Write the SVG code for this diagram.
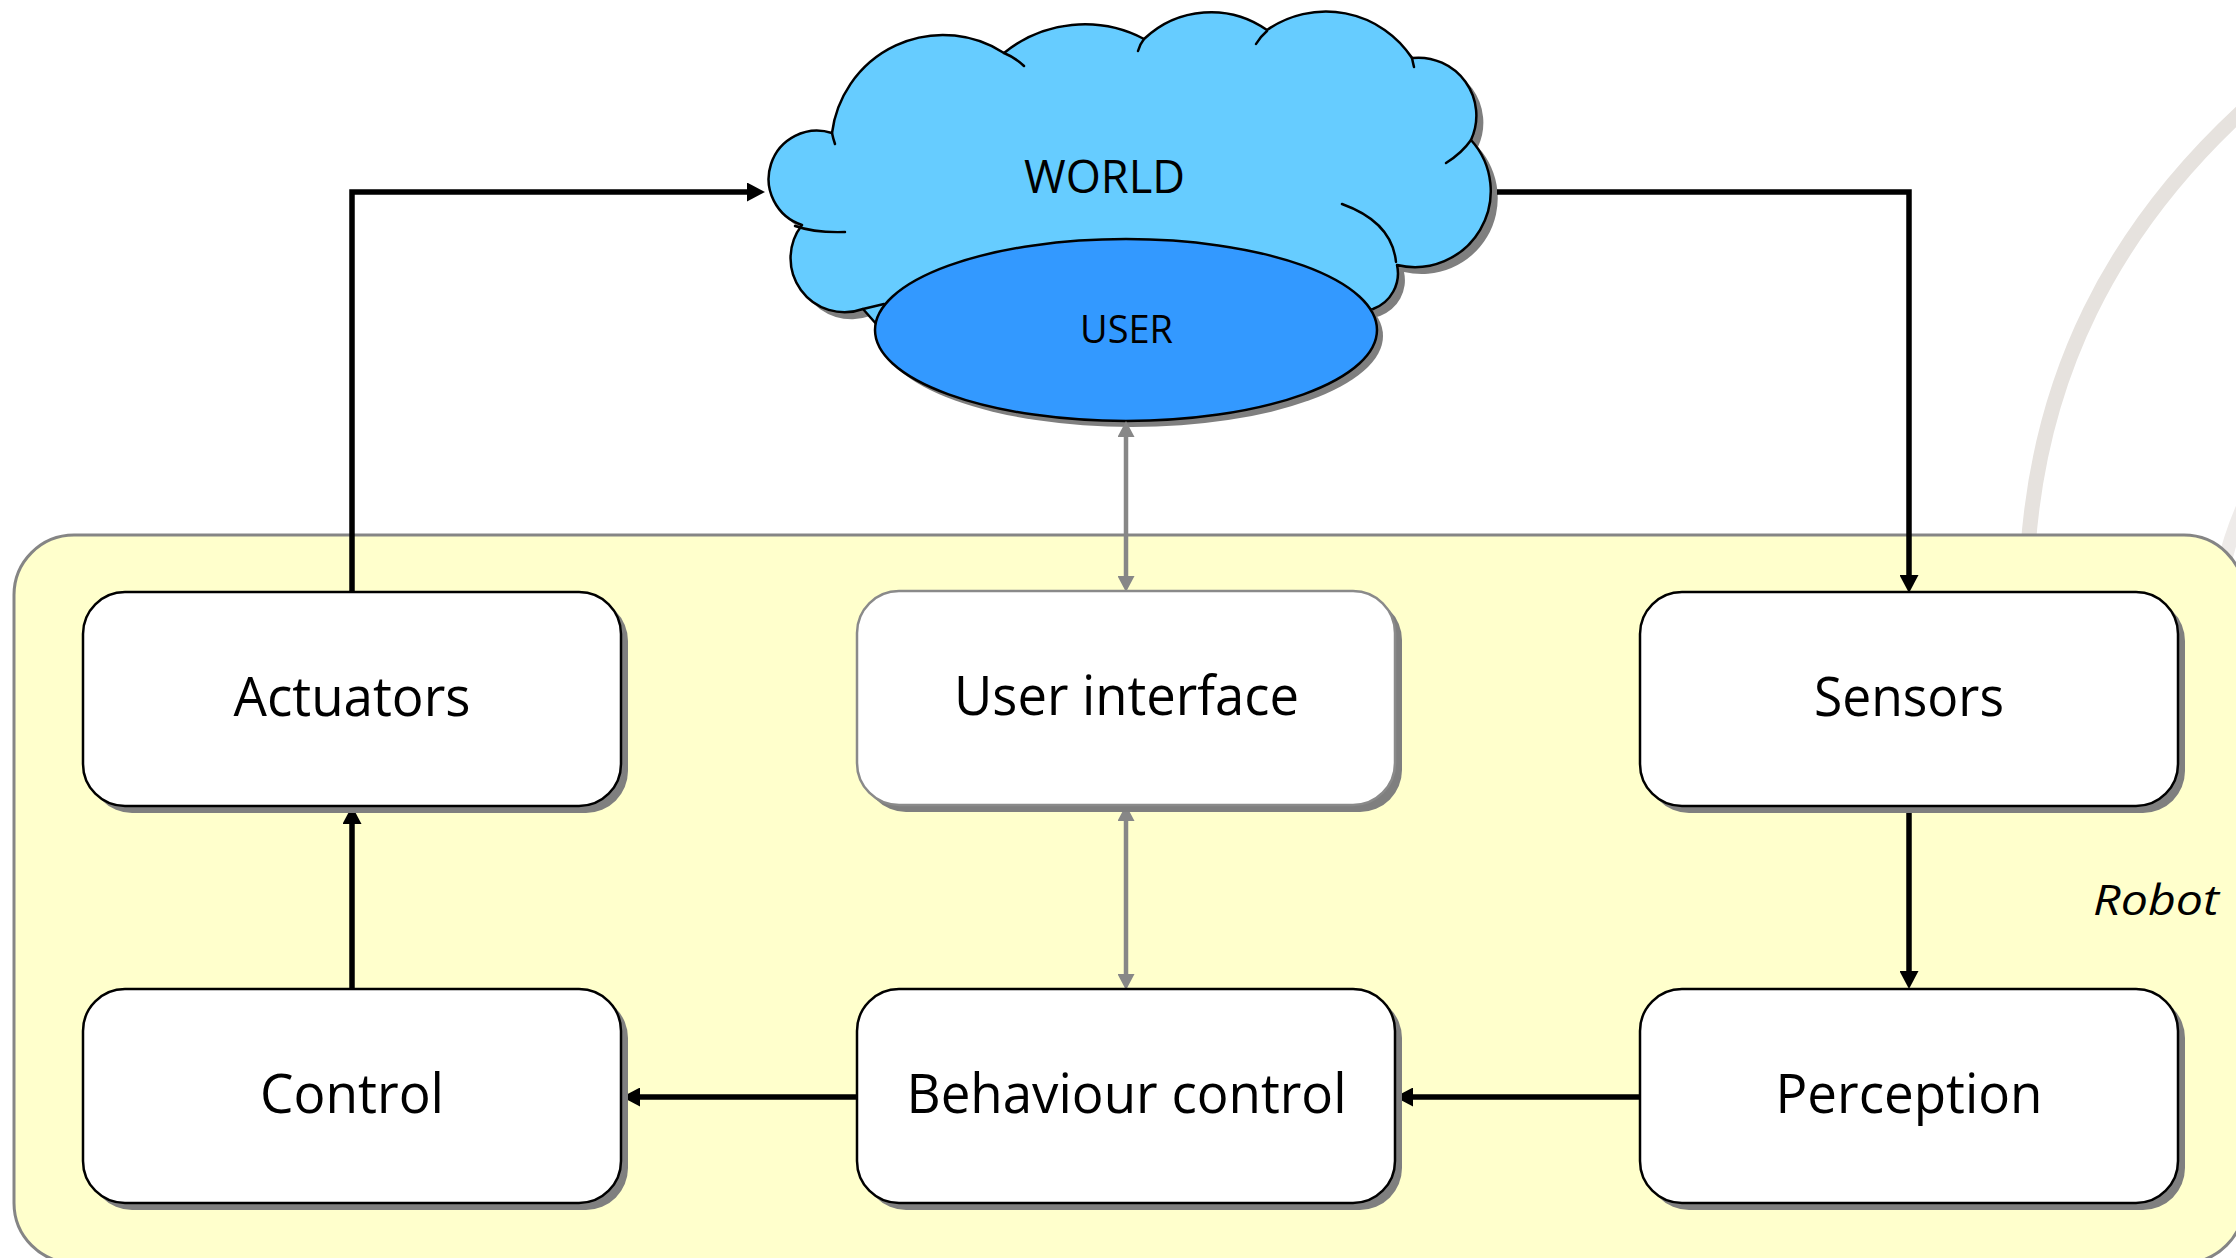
<svg xmlns="http://www.w3.org/2000/svg" xmlns:xlink="http://www.w3.org/1999/xlink" width="2236" height="1258" viewBox="0 0 2236 1258">
  <style>
    .box { fill: #ffffff; stroke: #000000; stroke-width: 2.5; }
    .box-soft { fill: #ffffff; stroke: #8a8a8a; stroke-width: 2.5; }
    .shadow { fill: #7f7f7f; stroke: none; }
    .label { font-family: "Open Sans", "Noto Sans", "Liberation Sans", sans-serif; fill: #000000; text-anchor: middle; }
    .big { font-size: 55px; }
    .link { fill: none; stroke: #000000; stroke-width: 5.5; }
    .link-ui { fill: none; stroke: #878787; stroke-width: 4.5; }
    .cloud-line { fill: none; stroke: #000000; stroke-width: 2.5; stroke-linecap: round; }
  </style>
  <defs>
    <marker id="head" markerUnits="userSpaceOnUse" viewBox="0 0 18 19" refX="8" refY="9.5" markerWidth="18" markerHeight="19" orient="auto-start-reverse">
      <path d="M0,0 L18,9.5 L0,19 Z" fill="#000000"/>
    </marker>
    <marker id="head-ui" markerUnits="userSpaceOnUse" viewBox="0 0 16 17" refX="6" refY="8.5" markerWidth="16" markerHeight="17" orient="auto-start-reverse">
      <path d="M0,0 L16,8.5 L0,17 Z" fill="#878787"/>
    </marker>
    <path id="cloud-shape" d="M 878 326 L 863 309
      A 54 54 0 0 1 802 225
      A 48 48 0 0 1 832 133
      A 112 112 0 0 1 1004 53
      A 128 128 0 0 1 1144 39
      A 97 97 0 0 1 1267 30
      A 103 103 0 0 1 1412 58
      A 58 58 0 0 1 1471 140
      A 76 76 0 0 1 1397 265
      A 38 38 0 0 1 1373 309
      L 1300 330 Z"/>
    <rect id="node-shape" x="0" y="0" width="538" height="214" rx="42" ry="42"/>
  </defs>

  <rect x="0" y="0" width="2236" height="1258" fill="#ffffff"/>

  <!-- faint decorative arcs in the upper right corner -->
  <g id="backdrop" fill="none" stroke-linecap="butt">
    <path d="M 2028 548 C 2040 380, 2108 232, 2250 104" stroke="#e6e2de" stroke-width="15"/>
    <path d="M 2212 640 C 2216 590, 2226 545, 2244 505" stroke="#eeebe9" stroke-width="14"/>
  </g>

  <!-- robot boundary -->
  <g id="robot">
    <rect x="14" y="535" width="2230" height="728" rx="60" ry="60" fill="#ffffcc" stroke="#858585" stroke-width="3"/>
    <text class="label" x="2156" y="915" font-size="42" font-style="italic" textLength="126" lengthAdjust="spacingAndGlyphs">Robot</text>
  </g>

  <!-- world cloud with the user -->
  <g id="world">
    <use xlink:href="#cloud-shape" class="shadow" transform="translate(7,7)"/>
    <use xlink:href="#cloud-shape" fill="#66ccff" stroke="#000000" stroke-width="2.5" stroke-linejoin="round"/>
    <path class="cloud-line" d="M 795 226 Q 815 233 845 232"/>
    <path class="cloud-line" d="M 832 133 Q 833 138 835 144"/>
    <path class="cloud-line" d="M 1004 53 Q 1016 58 1024 66"/>
    <path class="cloud-line" d="M 1144 39 Q 1140 44 1138 51"/>
    <path class="cloud-line" d="M 1267 31 Q 1260 37 1256 44"/>
    <path class="cloud-line" d="M 1412 58 Q 1413 63 1414 67"/>
    <path class="cloud-line" d="M 1471 140 Q 1462 153 1446 163"/>
    <path class="cloud-line" d="M 1342 204 Q 1392 222 1396 262"/>
    <path class="cloud-line" d="M 863 309 L 884 304"/>
    <text class="label" x="1104.5" y="193" font-size="46" textLength="161" lengthAdjust="spacingAndGlyphs">WORLD</text>
  </g>
  <g id="user">
    <ellipse cx="1132" cy="336" rx="251" ry="91" class="shadow"/>
    <ellipse cx="1126" cy="330" rx="251" ry="91" fill="#3399ff" stroke="#000000" stroke-width="2.5"/>
    <text class="label" x="1126.5" y="343" font-size="39" textLength="93" lengthAdjust="spacingAndGlyphs">USER</text>
  </g>

  <!-- connectors -->
  <g id="connectors">
    <path class="link" d="M 352 592 V 192 H 755" marker-end="url(#head)"/>
    <path class="link" d="M 1497 192 H 1909 V 583" marker-end="url(#head)"/>
    <path class="link" d="M 1909 806 V 979" marker-end="url(#head)"/>
    <path class="link" d="M 1640 1097 H 1405" marker-end="url(#head)"/>
    <path class="link" d="M 857 1097 H 632" marker-end="url(#head)"/>
    <path class="link" d="M 352 989 V 816" marker-end="url(#head)"/>
    <path class="link-ui" d="M 1126 431 V 582" marker-start="url(#head-ui)" marker-end="url(#head-ui)"/>
    <path class="link-ui" d="M 1126 815 V 980" marker-start="url(#head-ui)" marker-end="url(#head-ui)"/>
  </g>

  <!-- processing blocks -->
  <g id="actuators" transform="translate(83,592)">
    <use xlink:href="#node-shape" class="shadow" transform="translate(7,7)"/>
    <use xlink:href="#node-shape" class="box"/>
    <text class="label big" x="269" y="124" textLength="237" lengthAdjust="spacingAndGlyphs">Actuators</text>
  </g>
  <g id="user-interface" transform="translate(857,591)">
    <use xlink:href="#node-shape" class="shadow" transform="translate(7,7)"/>
    <use xlink:href="#node-shape" class="box-soft"/>
    <text class="label big" x="269.5" y="124" textLength="345" lengthAdjust="spacingAndGlyphs">User interface</text>
  </g>
  <g id="sensors" transform="translate(1640,592)">
    <use xlink:href="#node-shape" class="shadow" transform="translate(7,7)"/>
    <use xlink:href="#node-shape" class="box"/>
    <text class="label big" x="269" y="124" textLength="190" lengthAdjust="spacingAndGlyphs">Sensors</text>
  </g>
  <g id="control" transform="translate(83,989)">
    <use xlink:href="#node-shape" class="shadow" transform="translate(7,7)"/>
    <use xlink:href="#node-shape" class="box"/>
    <text class="label big" x="269" y="124" textLength="184" lengthAdjust="spacingAndGlyphs">Control</text>
  </g>
  <g id="behaviour-control" transform="translate(857,989)">
    <use xlink:href="#node-shape" class="shadow" transform="translate(7,7)"/>
    <use xlink:href="#node-shape" class="box"/>
    <text class="label big" x="269.5" y="124" textLength="440" lengthAdjust="spacingAndGlyphs">Behaviour control</text>
  </g>
  <g id="perception" transform="translate(1640,989)">
    <use xlink:href="#node-shape" class="shadow" transform="translate(7,7)"/>
    <use xlink:href="#node-shape" class="box"/>
    <text class="label big" x="269" y="124" textLength="267" lengthAdjust="spacingAndGlyphs">Perception</text>
  </g>
</svg>
